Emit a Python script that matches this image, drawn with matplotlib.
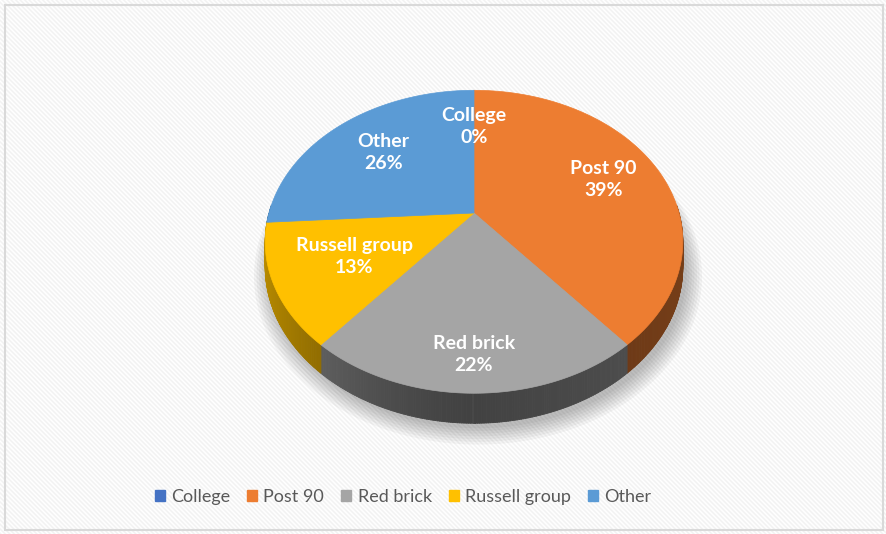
"""3D-style pie of university group shares, Excel look."""

import numpy as np
import matplotlib

matplotlib.use("Agg")
import matplotlib.pyplot as plt
from matplotlib.collections import PolyCollection
from matplotlib.patches import Patch, Polygon, Rectangle
from matplotlib.colors import to_rgb

categories = ["College", "Post 90", "Red brick", "Russell group", "Other"]
shares = [0, 39, 22, 13, 26]
colors = ["#4472c4", "#ed7d31", "#a5a5a5", "#ffc000", "#5b9bd5"]

# label distance from centre (fraction of radius), per slice
label_r = [0.67, 0.70, 0.82, 0.62, 0.66]

W, H = 886, 534
# projection of the unit disc onto the picture (pixels)
CX, CY = 474, 213
A, B, K, DEPTH = 205, 146, 0.19, 24.3


def proj(r, th, z=0.0):
    X = r * np.cos(th)
    Y = r * np.sin(th)
    w = 1 + K * Y
    return CX + A * X / w, CY - B * Y / w + DEPTH * z / w


def side_factor(th):
    c = np.cos(th)
    return 0.40 + 0.33 * np.clip(-c, 0, 1) ** 1.5 + 0.1 * np.clip(c, 0, 1)


fig = plt.figure(figsize=(W / 100, H / 100), dpi=100)
ax = fig.add_axes([0, 0, 1, 1])
ax.set_xlim(0, W)
ax.set_ylim(H, 0)
ax.axis("off")

# striped background
yy, xx = np.mgrid[0:H, 0:W]
stripes = 0.975 + 0.025 * np.cos(2 * np.pi * (xx - yy) / 4.5)
ax.imshow(np.dstack([stripes] * 3), extent=(0, W, H, 0), zorder=0, interpolation="bilinear")
ax.add_patch(Rectangle((5, 5), W - 8, H - 9, fill=False, edgecolor="#d9d9d9", lw=1.5, zorder=1))

# slice angles, clockwise from 12 o'clock
fracs = np.array(shares, dtype=float) / sum(shares)
ends = np.pi / 2 - 2 * np.pi * np.cumsum(fracs)
starts = np.concatenate([[np.pi / 2], ends[:-1]])

# soft shadow
for grow in np.linspace(1.07, 1.0, 7):
    th = np.linspace(0, 2 * np.pi, 200)
    sx, sy = proj(grow, th, 1.0)
    ax.add_patch(Polygon(np.column_stack([sx + 4, sy + 5]), closed=True,
                         facecolor="#000000", alpha=0.04, lw=0, zorder=2))

# outer wall (front half only)
quads, quad_cols = [], []
for s, e, col in zip(starts, ends, colors):
    if s == e:
        continue
    th = np.linspace(s, e, max(int(abs(s - e) * 180 / np.pi * 2), 2))
    th = np.mod(th + np.pi, 2 * np.pi) - np.pi
    base = np.array(to_rgb(col))
    for a0, a1 in zip(th[:-1], th[1:]):
        if np.sin(a0) > 0.05 and np.sin(a1) > 0.05:
            continue
        if abs(a0 - a1) > np.pi:
            continue
        x0, y0 = proj(1, a0)
        x1, y1 = proj(1, a1)
        x2, y2 = proj(1, a1, 1)
        x3, y3 = proj(1, a0, 1)
        quads.append([(x0, y0), (x1, y1), (x2, y2), (x3, y3)])
        quad_cols.append(tuple(base * side_factor((a0 + a1) / 2)))
ax.add_collection(PolyCollection(quads, facecolors=quad_cols, edgecolors=quad_cols,
                                 linewidths=0.6, zorder=3))

# top faces
for s, e, col in zip(starts, ends, colors):
    if s == e:
        continue
    th = np.linspace(s, e, 200)
    px, py = proj(1, th)
    pts = np.vstack([[proj(0, 0)], np.column_stack([px, py])])
    ax.add_patch(Polygon(pts, closed=True, facecolor=col, edgecolor=col, lw=0.5, zorder=4))

# data labels
for name, val, s, e, r in zip(categories, shares, starts, ends, label_r):
    lx, ly = proj(r, (s + e) / 2)
    ax.text(lx, ly, f"{name}\n{val}%", ha="center", va="center", color="white",
            fontsize=14, fontweight="bold", family=["Lato", "DejaVu Sans"],
            linespacing=1.35, zorder=5)

handles = [Patch(facecolor=c, edgecolor=c) for c in colors]
leg = ax.legend(handles, categories, loc="center", bbox_to_anchor=(403 / W, 1 - 497 / H),
                bbox_transform=fig.transFigure, ncol=5, frameon=False,
                handlelength=0.55, handleheight=0.55, handletextpad=0.35,
                columnspacing=0.95, prop={"family": ["Lato", "DejaVu Sans"], "size": 13})
for t in leg.get_texts():
    t.set_color("#595959")

fig.savefig("out.png", dpi=100)
